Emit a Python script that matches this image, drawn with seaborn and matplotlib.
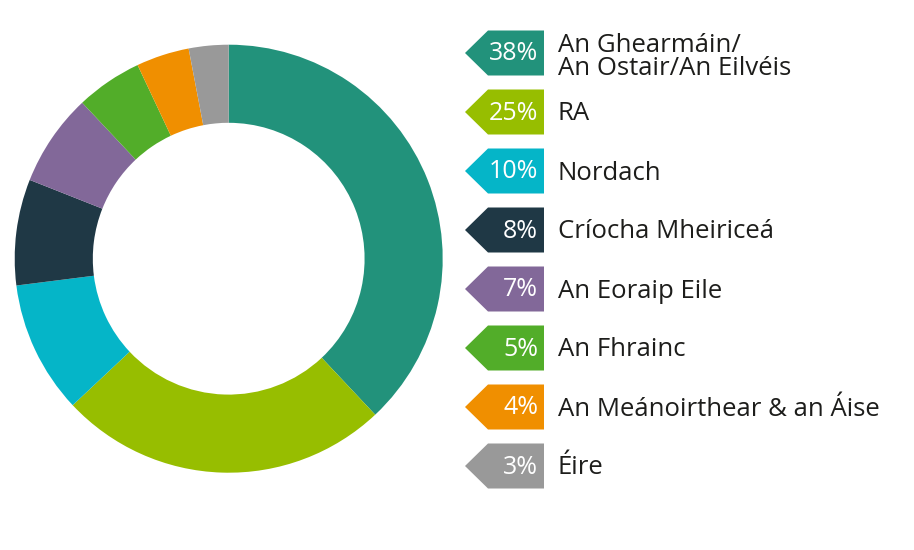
import matplotlib
matplotlib.use("Agg")
import matplotlib.pyplot as plt
from matplotlib.patches import Polygon
import seaborn as sns

labels = ["An Ghearmáin/\nAn Ostair/An Eilvéis", "RA", "Nordach", "Críocha Mheiriceá",
          "An Eoraip Eile", "An Fhrainc", "An Meánoirthear & an Áise", "Éire"]
values = [38, 25, 10, 8, 7, 5, 4, 3]
pct_labels = ["38%", "25%", "10%", "8%", "7%", "5%", "4%", "3%"]
colors = ["#22927B", "#97BE00", "#05B5C8", "#1F3845", "#826899", "#52AD29", "#F08F00", "#999999"]

sns.set_theme(style="white")
plt.rcParams['font.family'] = ['Open Sans', 'DejaVu Sans']

W, H = 914, 550
fig = plt.figure(figsize=(W / 100, H / 100), dpi=100)
ax = fig.add_axes([0, 0, 1, 1])

cx, cy, r = 228.7, H - 258.7, 214
ax.pie(values, colors=sns.color_palette(colors), startangle=90, counterclock=False,
       center=(cx, cy), radius=r, wedgeprops=dict(width=r * 0.365, linewidth=0),
       frame=True)
ax.set_xlim(0, W)
ax.set_ylim(0, H)
ax.set_aspect('equal')
ax.axis('off')

x_tip, x_sh, x_right = 465, 488, 544
h = 45
for i, (lab, pct, col) in enumerate(zip(labels, pct_labels, colors)):
    yc = H - (53 + 59 * i)
    poly = Polygon([(x_tip, yc), (x_sh, yc + h / 2), (x_right, yc + h / 2),
                    (x_right, yc - h / 2), (x_sh, yc - h / 2)], closed=True,
                   facecolor=col, edgecolor='none')
    ax.add_patch(poly)
    ax.text(538, yc - 1, pct, color='white', fontsize=18, ha='right', va='center')
    ax.text(558, yc - (4 if i == 0 else 2), lab, color='#1d1d1b', fontsize=18.5,
            ha='left', va='center', linespacing=0.92)

fig.savefig("out.png", dpi=100)
